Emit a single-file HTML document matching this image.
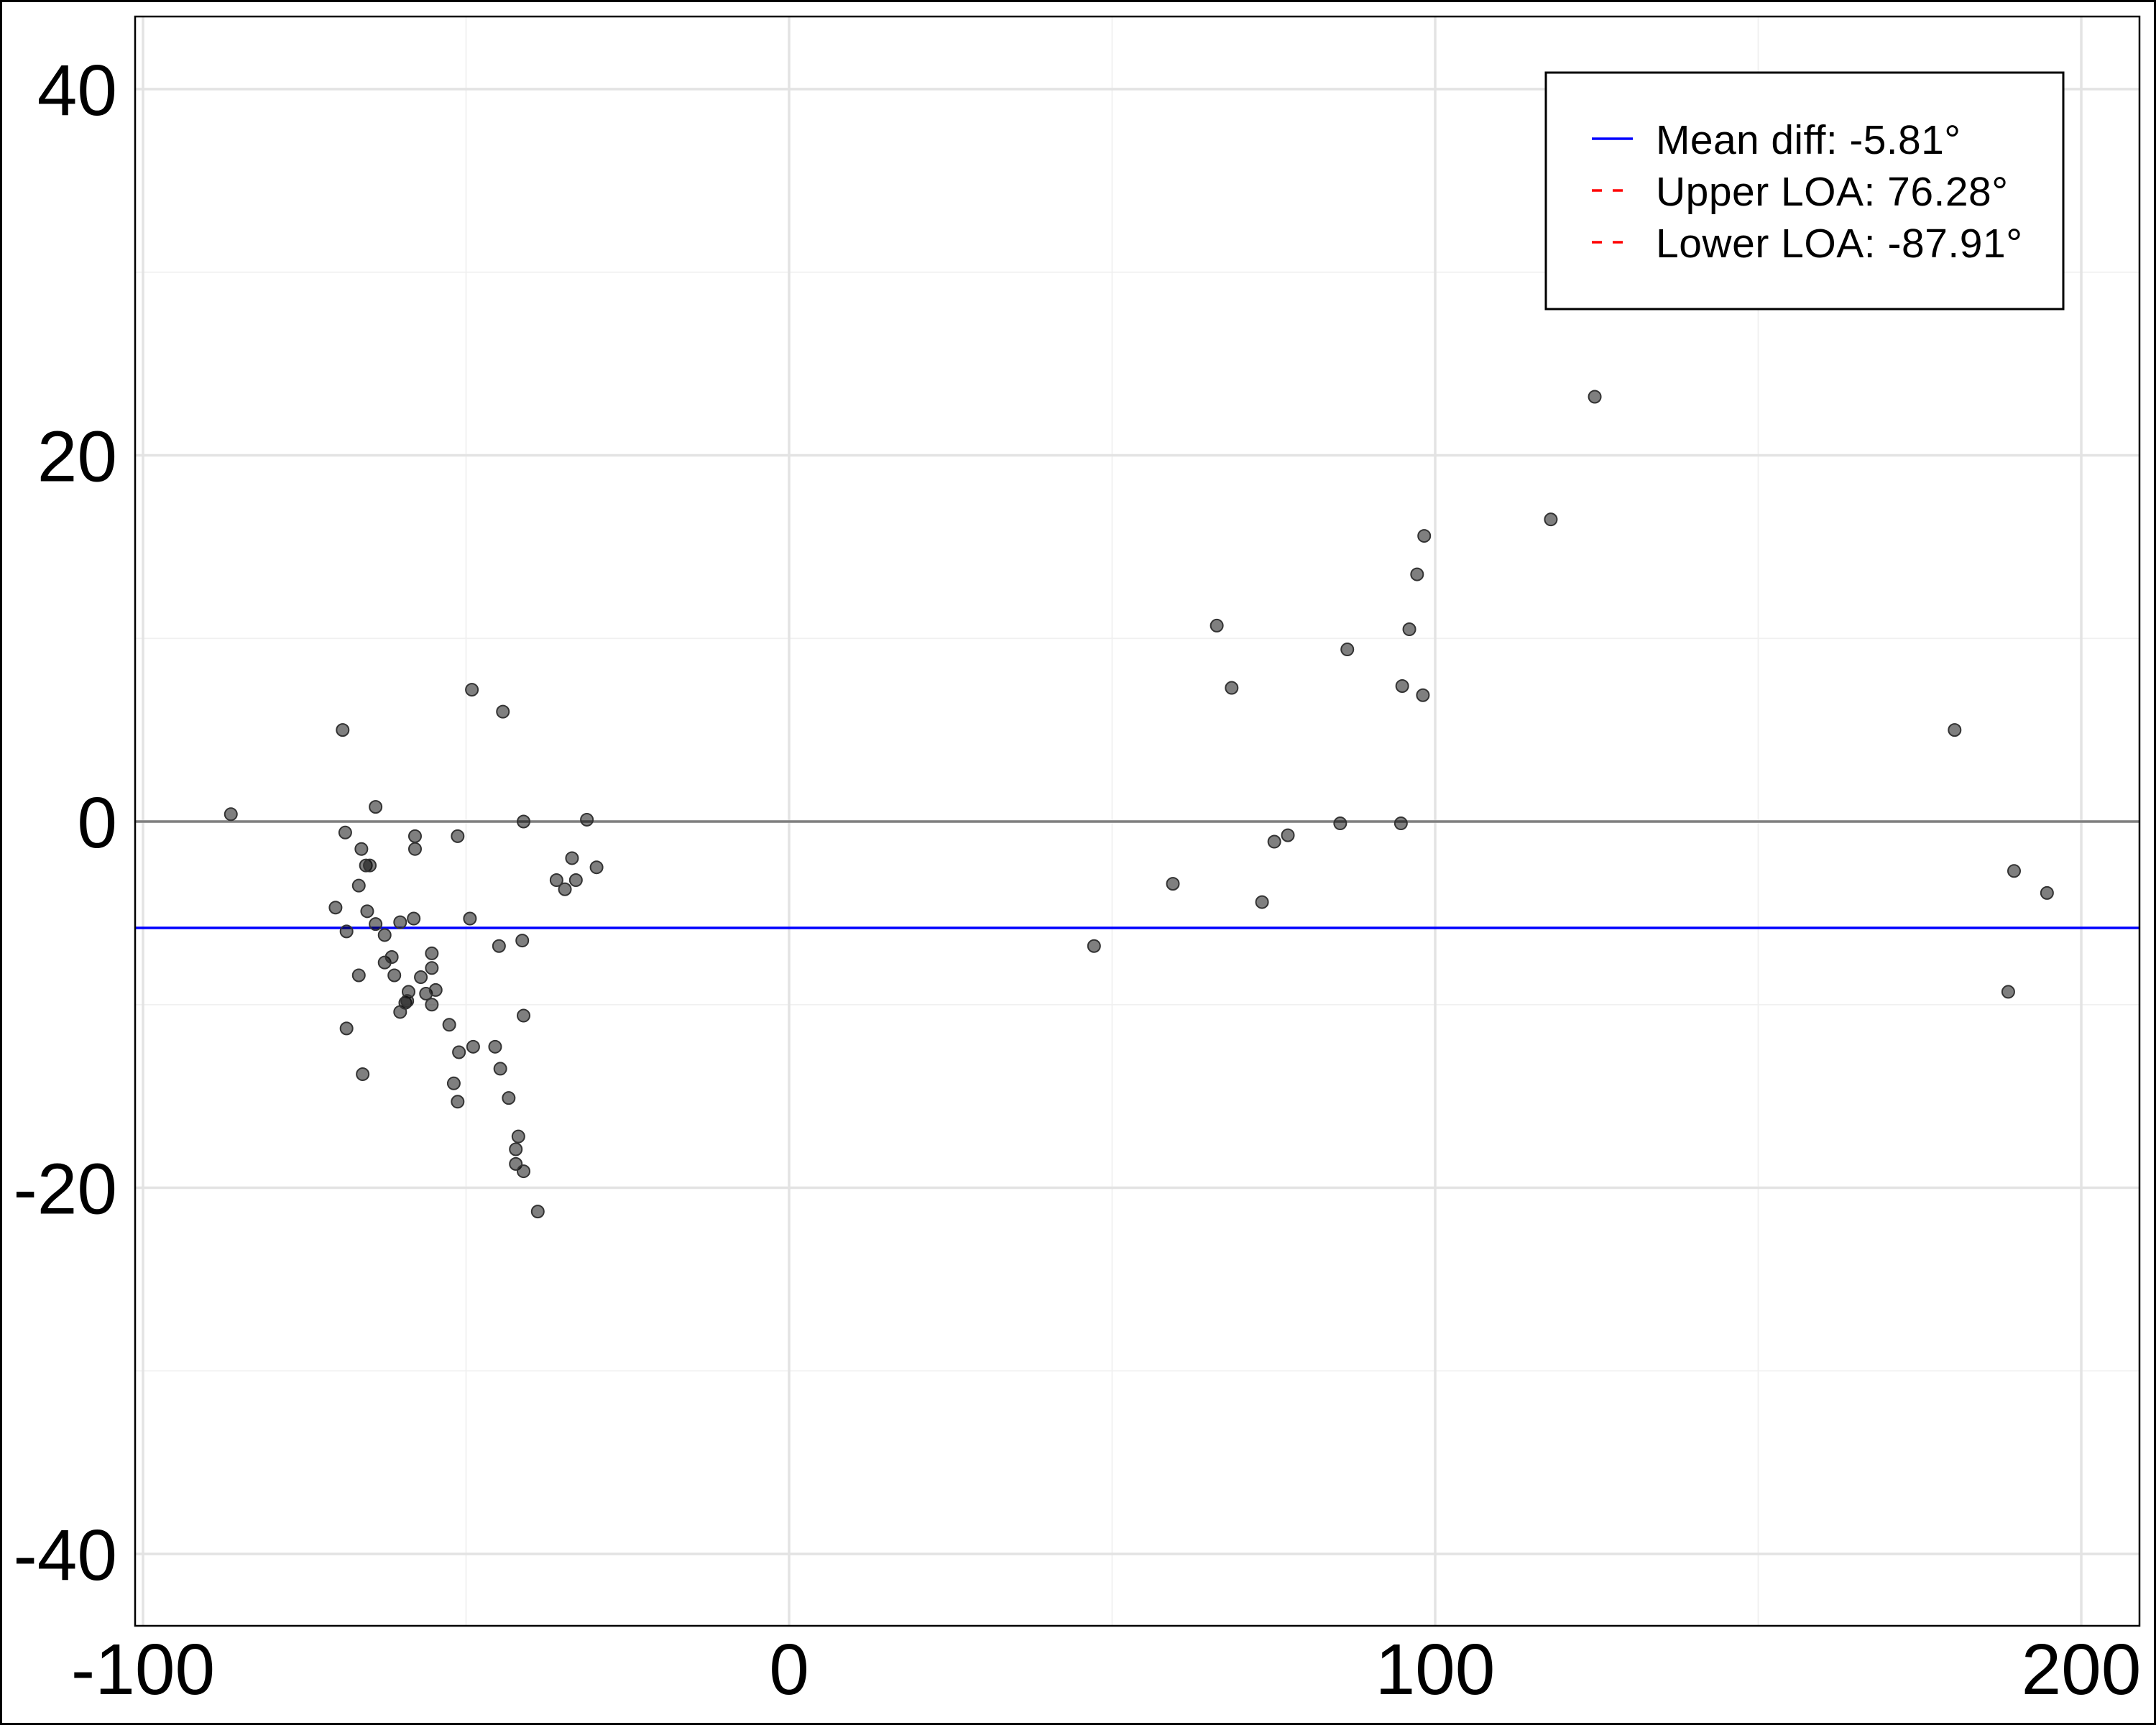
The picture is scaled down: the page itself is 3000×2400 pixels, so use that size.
<!DOCTYPE html>
<html><head><meta charset="utf-8">
<style>
html,body{margin:0;padding:0;background:#fff;}
svg{display:block;font-family:"Liberation Sans",Arial,sans-serif;}
</style></head>
<body>
<svg id="chart" width="3000" height="2400" viewBox="0 0 3000 2400">
<rect x="1.5" y="1.5" width="2997" height="2397" fill="#fff" stroke="#000" stroke-width="3"/>
<g id="grid"></g>
<g id="lines"></g>
<g id="points"></g>
<rect x="188" y="23" width="2789" height="2239" fill="none" stroke="#000" stroke-width="2.5"/>
<g id="ticks"></g>
<g>
<rect x="2151" y="101" width="720" height="329" fill="#fff" stroke="#000" stroke-width="3"/>
<line x1="2215" y1="193" x2="2272" y2="193" stroke="#0000ff" stroke-width="3.5"/>
<text x="2304" y="214" font-size="57" textLength="424">Mean diff: -5.81°</text>
<line x1="2215" y1="265" x2="2272" y2="265" stroke="#ff0000" stroke-width="3.5" stroke-dasharray="14,15"/>
<text x="2304" y="286" font-size="57" textLength="490">Upper LOA: 76.28°</text>
<line x1="2215" y1="337" x2="2272" y2="337" stroke="#ff0000" stroke-width="3.5" stroke-dasharray="14,15"/>
<text x="2304" y="358" font-size="57" textLength="510">Lower LOA: -87.91°</text>
</g>
</svg>
<script>
const xVals = [-86.4,-69.1,-68.7,-68.5,-68.5,-70.2,-66.6,-66.2,-66.0,-66.6,-65.5,-64.9,-65.3,-64.0,-64.0,-62.6,-62.6,-61.5,-61.1,-60.2,-60.2,-59.4,-58.9,-59.1,-58.1,-57.9,-57.9,-57.0,-56.2,-55.3,-55.3,-55.3,-54.7,-52.6,-51.9,-51.3,-51.1,-51.3,-49.1,-49.4,-48.9,-45.5,-44.9,-44.7,-44.3,-43.4,-41.9,-42.3,-42.3,-41.3,-41.1,-41.1,-41.1,-38.9,-36.0,-34.7,-33.6,-33.0,-31.3,-29.8,47.2,59.4,66.2,68.5,73.2,75.1,77.2,85.3,86.4,94.7,94.9,96.0,97.2,98.1,98.3,117.9,124.7,180.4,188.7,189.6,194.7];
const yVals = [0.4,5.0,-0.6,-6.0,-11.3,-4.7,-3.5,-1.5,-13.8,-8.4,-2.4,-2.4,-4.9,0.8,-5.6,-6.2,-7.7,-7.4,-8.4,-5.5,-10.4,-9.9,-9.3,-9.8,-5.3,-0.8,-1.5,-8.5,-9.4,-7.2,-8.0,-10.0,-9.2,-11.1,-14.3,-15.3,-12.6,-0.8,7.2,-5.3,-12.3,-12.3,-6.8,-13.5,6.0,-15.1,-17.2,-17.9,-18.7,-6.5,-19.1,-10.6,0.0,-21.3,-3.2,-3.7,-2.0,-3.2,0.1,-2.5,-6.8,-3.4,10.7,7.3,-4.4,-1.1,-0.75,-0.1,9.4,-0.1,7.4,10.5,13.5,6.9,15.6,16.5,23.2,5.0,-9.3,-2.7,-3.9];
const xTicks = [-100,0,100,200];
const xMinor = [-50,50,150];
const yTicks = [-40,-20,0,20,40];
const yMinor = [-30,-10,10,30];
const meanDiff = [-5.81];
const loa = [76.28,-87.91];

const X0=188, X1=2977, Y0=23, Y1=2262;
const sx = v => 1098 + (v)*8.99;
const sy = v => 1143 - v*25.475;
const NS='http://www.w3.org/2000/svg';
function mk(tag, attrs, parent){const e=document.createElementNS(NS,tag);for(const k in attrs)e.setAttribute(k,attrs[k]);parent.appendChild(e);return e;}
const grid=document.getElementById('grid'), lines=document.getElementById('lines'), pts=document.getElementById('points'), ticks=document.getElementById('ticks');

xMinor.forEach(v=>{const l=mk('line',{x1:sx(v),x2:sx(v),y1:Y0,y2:Y1,stroke:'#f0f0f0','stroke-width':1.8},grid);

});
yMinor.forEach(v=>{const l=mk('line',{x1:X0,x2:X1,y1:sy(v),y2:sy(v),stroke:'#f0f0f0','stroke-width':1.8},grid);

});
xTicks.forEach(v=>{const l=mk('line',{x1:sx(v),x2:sx(v),y1:Y0,y2:Y1,stroke:'#e3e3e3','stroke-width':3.5},grid);


const t=mk('text',{x:sx(v),y:2357,'font-size':100,'text-anchor':'middle'},ticks);t.textContent=v;

});
yTicks.forEach(v=>{const l=mk('line',{x1:X0,x2:X1,y1:sy(v),y2:sy(v),stroke:'#e3e3e3','stroke-width':3.5},grid);


const t=mk('text',{x:163,y:sy(v)+36,'font-size':100,'text-anchor':'end'},ticks);t.textContent=v;

});

const z=mk('line',{x1:X0,x2:X1,y1:sy(0),y2:sy(0),stroke:'#7f7f7f','stroke-width':3.5},lines);


const m=mk('line',{x1:X0,x2:X1,y1:sy(meanDiff[0]),y2:sy(meanDiff[0]),stroke:'#0000ff','stroke-width':3.5},lines);


loa.forEach(v=>{const y=sy(v); if(y<Y0||y>Y1) return;
const l=mk('line',{x1:X0,x2:X1,y1:y,y2:y,stroke:'#ff0000','stroke-width':3,'stroke-dasharray':'12,10'},lines);

});

xVals.forEach((v,i)=>{const c=mk('circle',{cx:sx(v),cy:sy(yVals[i]),r:8.5,fill:'rgba(0,0,0,0.5)',stroke:'#333','stroke-width':2},pts);

});
</script>
</body></html>
